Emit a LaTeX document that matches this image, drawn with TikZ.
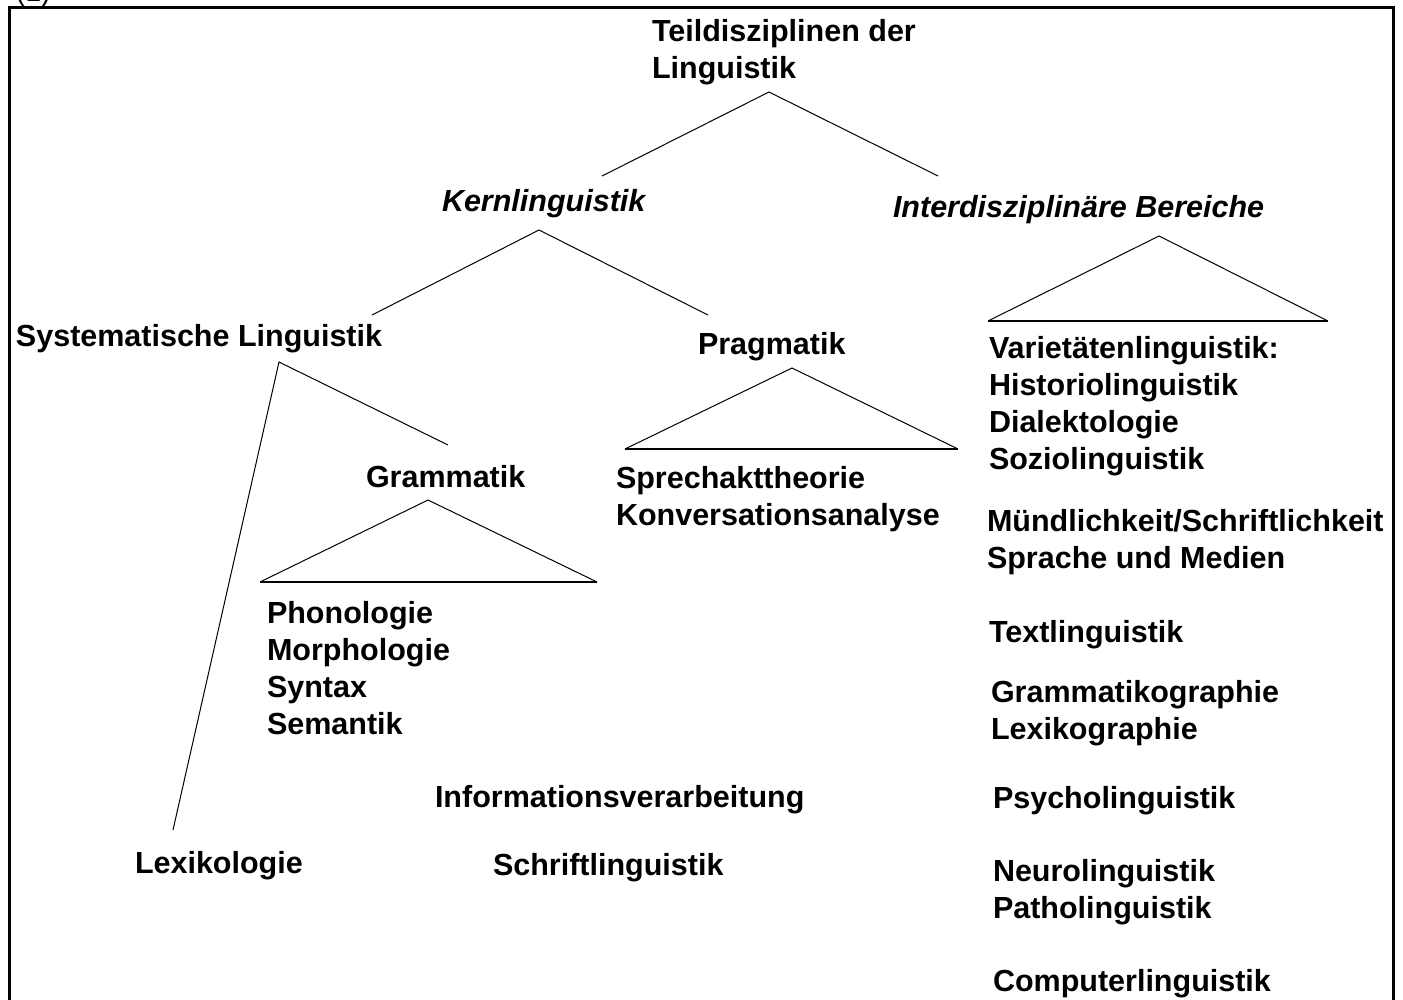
\documentclass[tikz,border=0pt]{standalone}
\usepackage{fontspec}
\setmainfont{Liberation Sans}
\begin{document}
\begin{tikzpicture}[x=1pt,y=-1pt,
  lbl/.style={anchor=base west,inner sep=0pt,outer sep=0pt,align=left,
    font=\fontsize{30.5}{37}\selectfont\bfseries},
  ilbl/.style={lbl,font=\fontsize{30.5}{37}\selectfont\bfseries\itshape},
  branch/.style={line width=1pt},
  base/.style={line width=2pt},
  frame/.style={line width=3pt}]
\useasboundingbox (0,0) rectangle (1403,1000);
% frame
\draw[frame] (9,1001) -- (9,8) -- (1393,8) -- (1393,1001);
\node[anchor=base west,inner sep=0pt,font=\fontsize{28}{30}\selectfont] (num) at (16,2) {(1)};
% labels (multi-line: position = baseline of last line)
\node[lbl] (root) at (652,79) {Teildisziplinen der\\Linguistik};
\node[ilbl] (kern) at (442,212) {Kernlinguistik};
\node[ilbl] (inter) at (893,218) {Interdisziplinäre Bereiche};
\node[lbl] (sys) at (16,347) {Systematische Linguistik};
\node[lbl] (prag) at (698,354) {Pragmatik};
\node[lbl] (gram) at (366,487) {Grammatik};
\node[lbl] (gramsub) at (267,734) {Phonologie\\Morphologie\\Syntax\\Semantik};
\node[lbl] (pragsub) at (616,525) {Sprechakttheorie\\Konversationsanalyse};
\node[lbl] (lex) at (135,873) {Lexikologie};
\node[lbl] (info) at (435,807) {Informationsverarbeitung};
\node[lbl] (schrift) at (493,875) {Schriftlinguistik};
\node[lbl] (var) at (989,469) {Varietätenlinguistik:\\Historiolinguistik\\Dialektologie\\Soziolinguistik};
\node[lbl] (muend) at (987,568) {Mündlichkeit/Schriftlichkeit\\Sprache und Medien};
\node[lbl] (text) at (989,642) {Textlinguistik};
\node[lbl] (graphie) at (991,739) {Grammatikographie\\Lexikographie};
\node[lbl] (psych) at (993,808) {Psycholinguistik};
\node[lbl] (neuro) at (993,918) {Neurolinguistik\\Patholinguistik};
\node[lbl] (comp) at (993,991) {Computerlinguistik};
% branch points
\coordinate (rootA) at (769,92);
\coordinate (rootL) at (602,176);
\coordinate (rootR) at (938,176);
\coordinate (kernA) at (539,230);
\coordinate (kernL) at (372,315);
\coordinate (kernR) at (708,315);
\coordinate (interA) at (1159,236);
\coordinate (interL) at (988,321);
\coordinate (interR) at (1328,321);
\coordinate (sysA) at (279,362);
\coordinate (sysR) at (448,445);
\coordinate (sysL) at (173,830);
\coordinate (gramA) at (428,500);
\coordinate (gramL) at (260,582);
\coordinate (gramR) at (597,582);
\coordinate (pragA) at (792,368);
\coordinate (pragL) at (625,449);
\coordinate (pragR) at (958,449);
% connectors
\draw[branch] (rootL) -- (rootA) -- (rootR);
\draw[branch] (kernL) -- (kernA) -- (kernR);
\draw[branch] (sysL) -- (sysA) -- (sysR);
\draw[branch] (gramL) -- (gramA) -- (gramR);
\draw[base] (gramL) -- (gramR);
\draw[branch] (pragL) -- (pragA) -- (pragR);
\draw[base] (pragL) -- (pragR);
\draw[branch] (interL) -- (interA) -- (interR);
\draw[base] (interL) -- (interR);
\end{tikzpicture}
\end{document}
